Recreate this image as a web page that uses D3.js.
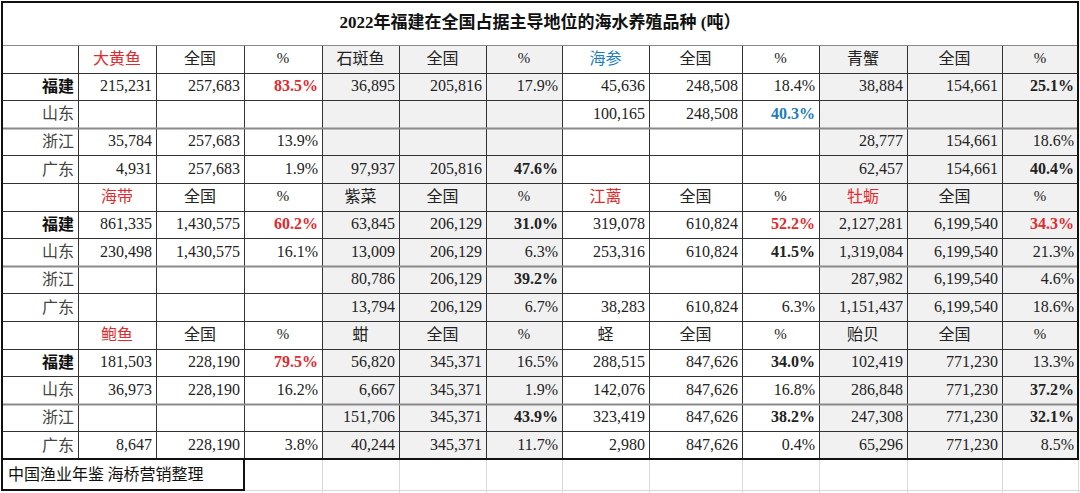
<!DOCTYPE html>
<html><head><meta charset="utf-8">
<script src="https://cdn.jsdelivr.net/npm/d3@7"></script>
<style>
html,body{margin:0;padding:0;background:#fff;}
svg{display:block;}
</style></head>
<body>
<svg id="c" width="1080" height="493"></svg>
<script>
// ---------- data ----------
const title = "2022年福建在全国占据主导地位的海水养殖品种 (吨）";
const source = "中国渔业年鉴 海桥营销整理";
const provinces = ["福建", "山东", "浙江", "广东"];
const headerNational = "全国";
const headerPct = "%";

const speciesBlocks = [
  ["大黄鱼", "石斑鱼", "海参", "青蟹"],
  ["海带", "紫菜", "江蓠", "牡蛎"],
  ["鲍鱼", "蚶", "蛏", "贻贝"]
];
const nationalTotals = [
  [257683, 205816, 248508, 154661],
  [1430575, 206129, 610824, 6199540],
  [228190, 345371, 847626, 771230]
];
// province output, rows = 福建, 山东, 浙江, 广东 (null = blank)
const provinceValues = [
  [ [215231, null, 35784, 4931], [36895, null, null, 97937], [45636, 100165, null, null], [38884, null, 28777, 62457] ],
  [ [861335, 230498, null, null], [63845, 13009, 80786, 13794], [319078, 253316, null, 38283], [2127281, 1319084, 287982, 1151437] ],
  [ [181503, 36973, null, 8647], [56820, 6667, 151706, 40244], [288515, 142076, 323419, 2980], [102419, 286848, 247308, 65296] ]
];
// highlight colour of species name + the province row whose share carries it
const speciesAccent = [
  ["red", null, "blue", null],
  ["red", null, "red", "red"],
  ["red", null, null, null]
];
const accentProvince = [
  [0, null, 1, null],
  [0, null, 0, 0],
  [0, null, null, null]
];
// emphasised share cells (1 = bold)
const pctBold = [
  [ [1,0,0,0], [0,0,0,1], [0,1,0,0], [1,0,0,1] ],
  [ [1,0,0,0], [1,0,1,0], [1,1,0,0], [1,0,0,0] ],
  [ [1,0,0,0], [0,0,1,0], [1,0,1,0], [0,1,1,0] ]
];

// ---------- layout ----------
const colEdges = [2, 78, 156, 244, 322, 399, 486, 562, 649, 742, 819, 907, 1002, 1078];
const tableTop = 2, titleBottom = 45, tableBottom = 459, footerBottom = 490;
const nRows = 15;
const y = d3.scaleLinear().domain([0, nRows]).range([titleBottom, tableBottom]);
const colors = { red: "#e22a2e", blue: "#1b7cc0", text: "#222" };
const numFont = "'Liberation Serif','Times New Roman',serif";
const cjkFont = "'Noto Sans CJK SC','Liberation Serif',serif";
const fmtN = d3.format(",");
const fmtP = d3.format(".1%");

const svg = d3.select("#c");

// shading of alternate groups
const shade = svg.append("g");
speciesBlocks.forEach((blk, b) => {
  [1, 3].forEach(g => {
    const x0 = colEdges[1 + g * 3], x1 = colEdges[4 + g * 3];
    shade.append("rect").attr("x", x0).attr("y", y(b * 5)).attr("width", x1 - x0)
      .attr("height", y(b * 5 + 5) - y(b * 5)).attr("fill", "#f1f1f1");
  });
});

// gridlines below table
const grid = svg.append("g").attr("stroke", "#d9d9d9").attr("stroke-width", 1);
colEdges.filter(x => x > 250).forEach(x => {
  grid.append("line").attr("x1", x + 0.5).attr("x2", x + 0.5).attr("y1", tableBottom).attr("y2", 493);
});
grid.append("line").attr("x1", 244).attr("x2", 1080).attr("y1", footerBottom + 0.5).attr("y2", footerBottom + 0.5);

// title
svg.append("text").attr("x", 540).attr("y", 24).attr("text-anchor", "middle")
  .attr("dominant-baseline", "middle").attr("font-family", "'Liberation Serif'," + cjkFont)
  .attr("font-size", 17).attr("font-weight", "bold").attr("fill", "#111").text(title);

const cells = svg.append("g");
function cell(col, row, txt, opt = {}) {
  const x0 = colEdges[col], x1 = colEdges[col + 1];
  const cy = (y(row) + y(row + 1)) / 2 + 1;
  const anchor = opt.anchor || "end";
  const x = anchor === "middle" ? (x0 + x1) / 2 : anchor === "end" ? x1 - 4 : x0 + 4;
  cells.append("text").attr("x", x).attr("y", cy).attr("text-anchor", anchor)
    .attr("dominant-baseline", "middle")
    .attr("font-family", opt.cjk ? cjkFont : numFont)
    .attr("font-size", opt.size || 16)
    .attr("font-weight", opt.bold ? "bold" : "normal")
    .attr("fill", opt.color || colors.text).text(txt);
}

speciesBlocks.forEach((blk, b) => {
  const r0 = b * 5;
  blk.forEach((sp, s) => {
    const c0 = 1 + s * 3;
    const acc = speciesAccent[b][s];
    cell(c0, r0, sp, { anchor: "middle", cjk: true, color: acc ? colors[acc] : colors.text });
    cell(c0 + 1, r0, headerNational, { anchor: "middle", cjk: true });
    cell(c0 + 2, r0, headerPct, { anchor: "middle", size: 15 });
    provinceValues[b][s].forEach((v, p) => {
      if (v == null) return;
      const nat = nationalTotals[b][s];
      const bold = pctBold[b][s][p] === 1;
      const pctColor = acc && accentProvince[b][s] === p ? colors[acc] : colors.text;
      cell(c0, r0 + 1 + p, fmtN(v));
      cell(c0 + 1, r0 + 1 + p, fmtN(nat));
      cell(c0 + 2, r0 + 1 + p, fmtP(v / nat), { bold, color: pctColor });
    });
  });
  provinces.forEach((pr, p) => {
    cell(0, r0 + 1 + p, pr, { cjk: true, bold: p === 0, anchor: "end", color: p === 0 ? "#111" : "#444" });
  });
});

// footer
svg.append("text").attr("x", 8).attr("y", (tableBottom + footerBottom) / 2 + 1)
  .attr("dominant-baseline", "middle").attr("font-family", cjkFont).attr("font-size", 16)
  .attr("fill", "#111").text(source);

// inner lines
const lines = svg.append("g");
colEdges.slice(1, -1).forEach(x => {
  lines.append("line").attr("x1", x + 0.5).attr("x2", x + 0.5).attr("y1", titleBottom).attr("y2", tableBottom)
    .attr("stroke", "#333").attr("stroke-width", 1);
});
d3.range(1, nRows).forEach(i => {
  const isMid = (i % 5) === 3; // between 山东 and 浙江
  lines.append("line").attr("x1", colEdges[0]).attr("x2", colEdges[colEdges.length - 1])
    .attr("y1", Math.round(y(i)) + 0.5).attr("y2", Math.round(y(i)) + 0.5)
    .attr("stroke", isMid ? "#8a8a8a" : "#333").attr("stroke-width", isMid ? 2 : 1);
});
lines.append("line").attr("x1", colEdges[0]).attr("x2", colEdges[colEdges.length - 1])
  .attr("y1", titleBottom + 0.5).attr("y2", titleBottom + 0.5).attr("stroke", "#8a8a8a").attr("stroke-width", 1);

// outer borders
svg.append("rect").attr("x", colEdges[0]).attr("y", tableTop).attr("width", colEdges[colEdges.length - 1] - colEdges[0])
  .attr("height", tableBottom - tableTop).attr("fill", "none").attr("stroke", "#111").attr("stroke-width", 2);
svg.append("rect").attr("x", colEdges[0]).attr("y", tableBottom).attr("width", colEdges[3] - colEdges[0])
  .attr("height", footerBottom - tableBottom).attr("fill", "none").attr("stroke", "#111").attr("stroke-width", 2);
</script>
</body></html>
